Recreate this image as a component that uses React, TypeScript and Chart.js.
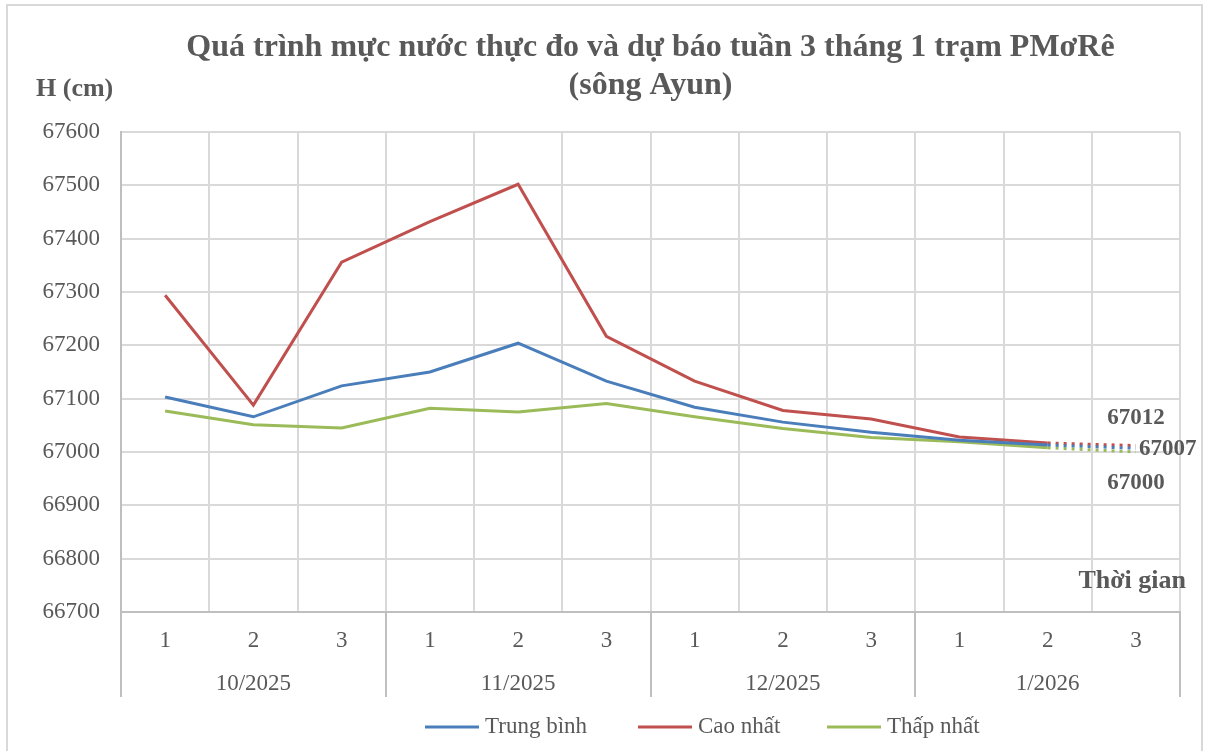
import React, { useEffect, useRef } from 'react';
import { Chart, registerables } from 'chart.js';

Chart.register(...registerables);

// ---------- Data ----------
const weekLabels = ['1', '2', '3', '1', '2', '3', '1', '2', '3', '1', '2', '3'];
const monthLabels = ['10/2025', '11/2025', '12/2025', '1/2026'];
const weeksPerMonth = 3;

const trungBinh = [67103, 67066, 67124, 67150, 67204, 67133, 67084, 67056, 67037, 67022, 67013, 67007];
const caoNhat = [67294, 67088, 67356, 67432, 67502, 67217, 67133, 67078, 67062, 67028, 67017, 67012];
const thapNhat = [67077, 67051, 67045, 67082, 67075, 67091, 67066, 67044, 67027, 67019, 67008, 67000];

const seriesNames = ['Trung bình', 'Cao nhất', 'Thấp nhất'];
const seriesColors = ['#4a7ebb', '#c0504d', '#9bbb59'];

const yMin = 66700;
const yMax = 67600;
const yStep = 100;

const forecastIndex = 11; // last point is forecast (dotted segment)

const titleLines = ['Quá trình mực nước thực đo và dự báo tuần 3 tháng 1 trạm PMơRê', '(sông Ayun)'];
const yAxisTitle = 'H (cm)';
const xAxisTitle = 'Thời gian';

const FONT = "'Liberation Serif', 'Times New Roman', serif";
const TEXT = '#595959';

const overlayPlugin = {
  id: 'overlay',
  afterDraw(chart: any) {
    const ctx = chart.ctx as CanvasRenderingContext2D;
    const area = chart.chartArea;
    const x = chart.scales.x;
    ctx.save();

    // outer frame
    ctx.strokeStyle = '#d9d9d9';
    ctx.lineWidth = 2;
    ctx.strokeRect(7, 5, 1195, 760);

    // title
    ctx.fillStyle = TEXT;
    ctx.textAlign = 'center';
    ctx.textBaseline = 'middle';
    ctx.font = `bold 32px ${FONT}`;
    const cx = (area.left + area.right) / 2;
    ctx.fillText(titleLines[0], cx, 48);
    ctx.fillText(titleLines[1], cx, 86);

    // axis titles
    ctx.font = `bold 26px ${FONT}`;
    ctx.textAlign = 'left';
    ctx.fillText(yAxisTitle, 36, 89);
    ctx.textAlign = 'right';
    ctx.fillText(xAxisTitle, 1186, 581);

    // x category labels (two levels)
    const step = x.getPixelForValue(1) - x.getPixelForValue(0);
    ctx.font = `23px ${FONT}`;
    ctx.textAlign = 'center';
    weekLabels.forEach((w, i) => {
      ctx.fillText(w, x.getPixelForValue(i), 641);
    });
    monthLabels.forEach((m, j) => {
      const a = x.getPixelForValue(j * weeksPerMonth);
      const b = x.getPixelForValue(j * weeksPerMonth + weeksPerMonth - 1);
      ctx.fillText(m, (a + b) / 2, 684);
    });
    ctx.strokeStyle = '#bfbfbf';
    ctx.lineWidth = 2;
    for (let j = 0; j <= monthLabels.length; j++) {
      const px = Math.round(x.getPixelForValue(j * weeksPerMonth) - step / 2);
      ctx.beginPath();
      ctx.moveTo(px, area.bottom);
      ctx.lineTo(px, 697);
      ctx.stroke();
    }

    // end labels for forecast values
    ctx.font = `bold 23px ${FONT}`;
    const redPt = chart.getDatasetMeta(1).data[forecastIndex];
    const bluePt = chart.getDatasetMeta(0).data[forecastIndex];
    const greenPt = chart.getDatasetMeta(2).data[forecastIndex];
    ctx.textAlign = 'center';
    ctx.fillText(String(caoNhat[forecastIndex]), redPt.x, redPt.y - 28);
    ctx.textAlign = 'left';
    ctx.fillText(String(trungBinh[forecastIndex]), bluePt.x + 3, bluePt.y + 1);
    ctx.textAlign = 'center';
    ctx.fillText(String(thapNhat[forecastIndex]), greenPt.x, greenPt.y + 31);

    // legend
    const legendX = [425, 638, 827];
    ctx.font = `23px ${FONT}`;
    ctx.textAlign = 'left';
    ctx.lineWidth = 3;
    chart.data.datasets.forEach((ds: any, i: number) => {
      ctx.strokeStyle = ds.borderColor;
      ctx.beginPath();
      ctx.moveTo(legendX[i], 727);
      ctx.lineTo(legendX[i] + 54, 727);
      ctx.stroke();
      ctx.fillStyle = TEXT;
      ctx.fillText(ds.label, legendX[i] + 60, 727);
    });

    ctx.restore();
  },
};

export default function App() {
  const ref = useRef<HTMLCanvasElement | null>(null);

  useEffect(() => {
    if (!ref.current) return;
    const mk = (label: string, data: number[], color: string) => ({
      label,
      data,
      borderColor: color,
      backgroundColor: color,
      borderWidth: 3,
      pointRadius: 0,
      tension: 0,
      segment: {
        borderDash: (c: any) => (c.p1DataIndex >= forecastIndex ? [3, 5] : undefined),
      },
    });
    const chart = new Chart(ref.current, {
      type: 'line',
      data: {
        labels: weekLabels.map((w, i) => `${w}-${i}`),
        datasets: [
          mk(seriesNames[0], trungBinh, seriesColors[0]),
          mk(seriesNames[1], caoNhat, seriesColors[1]),
          mk(seriesNames[2], thapNhat, seriesColors[2]),
        ],
      },
      options: {
        animation: false,
        responsive: false,
        maintainAspectRatio: false,
        layout: { padding: { left: 0, top: 132, right: 25, bottom: 39 } },
        plugins: {
          legend: { display: false },
          title: { display: false },
          tooltip: { enabled: false },
        },
        scales: {
          x: {
            offset: true,
            grid: { offset: true, color: '#d9d9d9', lineWidth: 2, drawTicks: false },
            border: { color: '#bfbfbf', width: 2 },
            ticks: { display: false },
            afterFit: (s: any) => {
              s.height = 100;
            },
          },
          y: {
            min: yMin,
            max: yMax,
            ticks: {
              stepSize: yStep,
              color: TEXT,
              font: { family: FONT, size: 23 },
              padding: 21,
              callback: (v: any) => String(v),
            },
            grid: { color: '#d9d9d9', lineWidth: 2, drawTicks: false },
            border: { color: '#bfbfbf', width: 2 },
            afterFit: (s: any) => {
              s.width = 121;
            },
          },
        },
      },
      plugins: [overlayPlugin],
    } as any);
    return () => chart.destroy();
  }, []);

  return (
    <div style={{ position: 'fixed', left: 0, top: 0, width: 1205, height: 751, background: '#fff' }}>
      <canvas ref={ref} width={1205} height={751} style={{ display: 'block' }} />
    </div>
  );
}
